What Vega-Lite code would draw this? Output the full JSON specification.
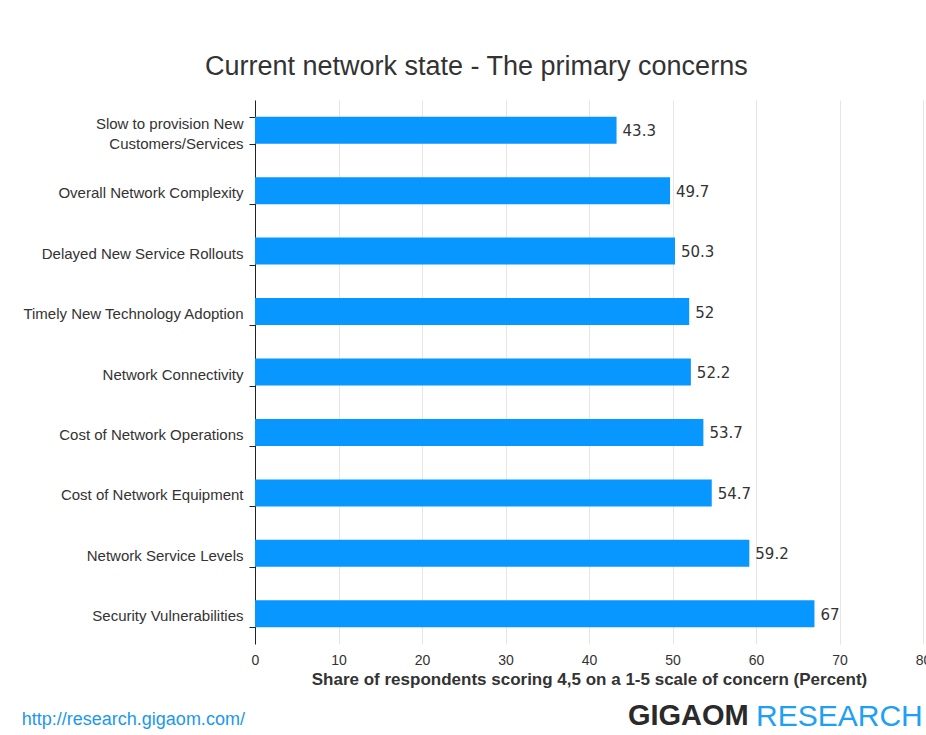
{
  "$schema": "https://vega.github.io/schema/vega-lite/v6.json",
  "padding": {"left": 21, "top": 53, "right": 0, "bottom": 0},
  "background": "white",
  "config": {"view": {"stroke": null}, "concat": {"spacing": 0}},
  "title": {"text": "http://research.gigaom.com/", "orient": "bottom", "anchor": "start", "frame": "bounds", "font": "Liberation Sans", "fontSize": 18, "fontWeight": "normal", "color": "#1a98f0", "offset": 0, "dy": -21},
  "vconcat": [
    {
      "title": {"text": "RESEARCH", "orient": "bottom", "anchor": "end", "frame": "bounds", "font": "Liberation Sans", "fontSize": 30, "fontWeight": "normal", "color": "#1ea0f5", "offset": 0, "dx": -8, "dy": -29},
      "vconcat": [
        {
          "title": {"text": "GIGAOM", "orient": "bottom", "anchor": "end", "frame": "bounds", "font": "Liberation Sans", "fontSize": 29, "fontWeight": "bold", "color": "#2a2a2a", "offset": 15, "dx": -182},
          "vconcat": [
            {
              "width": 668,
              "height": 544,
              "title": {"text": "Current network state - The primary concerns", "font": "Liberation Sans", "fontSize": 27, "fontWeight": "normal", "color": "#333333", "anchor": "middle", "frame": "bounds", "offset": 12},
              "data": {"values": [
                {"concern": "Slow to provision New Customers/Services", "share": 43.3},
                {"concern": "Overall Network Complexity", "share": 49.7},
                {"concern": "Delayed New Service Rollouts", "share": 50.3},
                {"concern": "Timely New Technology Adoption", "share": 52},
                {"concern": "Network Connectivity", "share": 52.2},
                {"concern": "Cost of Network Operations", "share": 53.7},
                {"concern": "Cost of Network Equipment", "share": 54.7},
                {"concern": "Network Service Levels", "share": 59.2},
                {"concern": "Security Vulnerabilities", "share": 67}
              ]},
              "encoding": {
                "y": {
                  "field": "concern", "type": "nominal", "sort": null,
                  "scale": {"paddingInner": 0.553, "paddingOuter": 0.2765},
                  "axis": {
                    "title": null, "grid": false,
                    "domainColor": "#222222", "domainWidth": 1,
                    "tickBand": "extent", "tickColor": "#222222", "tickSize": 6, "tickWidth": 1,
                    "labelPadding": 6, "labelFont": "Liberation Sans", "labelFontSize": 15, "labelColor": "#333333",
                    "labelLimit": 300, "labelLineHeight": 20,
                    "labelOffset": {"condition": {"test": "datum.value == 'Slow to provision New Customers/Services'", "value": -7}, "value": 2},
                    "minExtent": 232, "maxExtent": 232,
                    "labelExpr": "datum.label == 'Slow to provision New Customers/Services' ? ['Slow to provision New', 'Customers/Services'] : datum.label"
                  }
                },
                "x": {
                  "field": "share", "type": "quantitative",
                  "scale": {"domain": [0, 80], "nice": false},
                  "axis": {
                    "values": [0, 10, 20, 30, 40, 50, 60, 70, 80],
                    "grid": true, "gridColor": "#e6e6e6", "domain": false, "ticks": false,
                    "labelFont": "Liberation Sans", "labelFontSize": 14, "labelColor": "#333333", "labelPadding": 9, "labelFlush": false,
                    "title": "Share of respondents scoring 4,5 on a 1-5 scale of concern (Percent)",
                    "titleFont": "Liberation Sans", "titleFontSize": 17, "titleFontWeight": "bold", "titleColor": "#333333", "titlePadding": 4
                  }
                }
              },
              "layer": [
                {"mark": {"type": "bar", "color": "#0896ff"}},
                {"mark": {"type": "text", "align": "left", "baseline": "middle", "dx": 6, "dy": 1, "font": "DejaVu Sans", "fontSize": 15, "color": "#333333"},
                 "encoding": {"text": {"field": "share", "type": "quantitative", "format": "~g"}}}
              ]
            }
          ]
        }
      ]
    }
  ]
}
